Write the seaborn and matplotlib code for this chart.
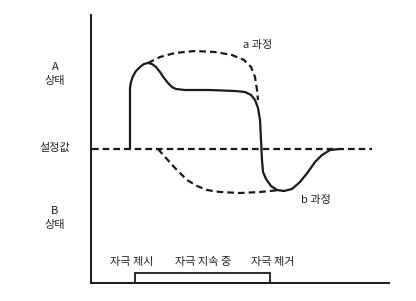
import matplotlib
matplotlib.use("Agg")
import matplotlib.pyplot as plt
import seaborn as sns
import pandas as pd
from matplotlib.patches import Rectangle

sns.set_theme(style="white")
plt.rcParams['font.family'] = ['Noto Sans CJK KR', 'DejaVu Sans']

# Coordinates: x = time (from y-axis), y = state relative to set point (+ = A, - = B)
solid_x = [39, 39, 39, 40, 42, 45, 49, 53, 57, 61, 65, 69, 73, 77, 81, 85, 94, 119, 144, 154, 160, 164, 167, 169, 170, 171, 172, 175, 180, 186, 193, 201, 209, 217, 224, 231, 239, 249]
solid_y = [0, 49, 61, 67, 73, 78, 82, 85, 86, 85, 82, 77, 71, 66, 62, 60, 59, 59, 58, 57, 54, 49, 41, 29, 9, -11, -23, -30, -37, -41, -42, -40, -33, -23, -13, -6, -1, 0]

a_x = [57, 69, 84, 104, 124, 141, 153, 160, 164, 166, 167]
a_y = [86, 92, 96, 98, 97, 94, 89, 82, 72, 59, 49]

b_x = [67, 75, 84, 96, 106, 116, 129, 149, 169, 189]
b_y = [0, -9, -19, -31, -37, -41, -43, -44, -43, -41]

setpoint_x = [1, 281]
setpoint_y = [0, 0]

stim_start, stim_end = 44, 179
state_labels = ["A\n상태", "설정값", "B\n상태"]
state_pos = [75, 1, -69]
stim_labels = ["자극 제시", "자극 지속 중", "자극 제거"]
stim_pos = [41, 112, 182]
proc_labels = ["a 과정", "b 과정"]
proc_x = [167, 225]
proc_y = [104, -51]

fig = plt.figure(figsize=(4.16, 3.01), dpi=100)
fig.patch.set_facecolor("white")
ax = fig.add_axes([91/416, (301-283)/301, (389-91)/416, (283-15)/301])
ax.set_xlim(0, 298)
ax.set_ylim(-134, 134)
ax.set_facecolor("white")

lw = 1.6
col = "#1a1a1a"
dash = (3, 1.8)

sns.lineplot(x=setpoint_x, y=setpoint_y, ax=ax, color=col, lw=lw, sort=False, estimator=None, linestyle=(0, dash))
sns.lineplot(x=a_x, y=a_y, ax=ax, color=col, lw=lw, sort=False, estimator=None, linestyle=(0, dash))
sns.lineplot(x=b_x, y=b_y, ax=ax, color=col, lw=lw, sort=False, estimator=None, linestyle=(0, dash))
sns.lineplot(x=solid_x, y=solid_y, ax=ax, color=col, lw=lw, sort=False, estimator=None)

ax.add_patch(Rectangle((stim_start, -134), stim_end - stim_start, 10, fill=False, ec=col, lw=1.3, clip_on=False))

for s in ["top", "right"]:
    ax.spines[s].set_visible(False)
for s in ["left", "bottom"]:
    ax.spines[s].set_color(col)
    ax.spines[s].set_linewidth(1.4)
ax.set_xticks([])
ax.set_yticks([])

tc = "#222222"
fs = 8
for lab, y in zip(state_labels, state_pos):
    ax.text(-36, y, lab, ha="center", va="center", fontsize=fs, color=tc, linespacing=1.5, clip_on=False)
for lab, x in zip(stim_labels, stim_pos):
    ax.text(x, -113, lab, ha="center", va="center", fontsize=fs, color=tc)
for lab, x, y in zip(proc_labels, proc_x, proc_y):
    ax.text(x, y, lab, ha="center", va="center", fontsize=fs, color=tc)

fig.savefig("out.png", dpi=100, facecolor="white")
